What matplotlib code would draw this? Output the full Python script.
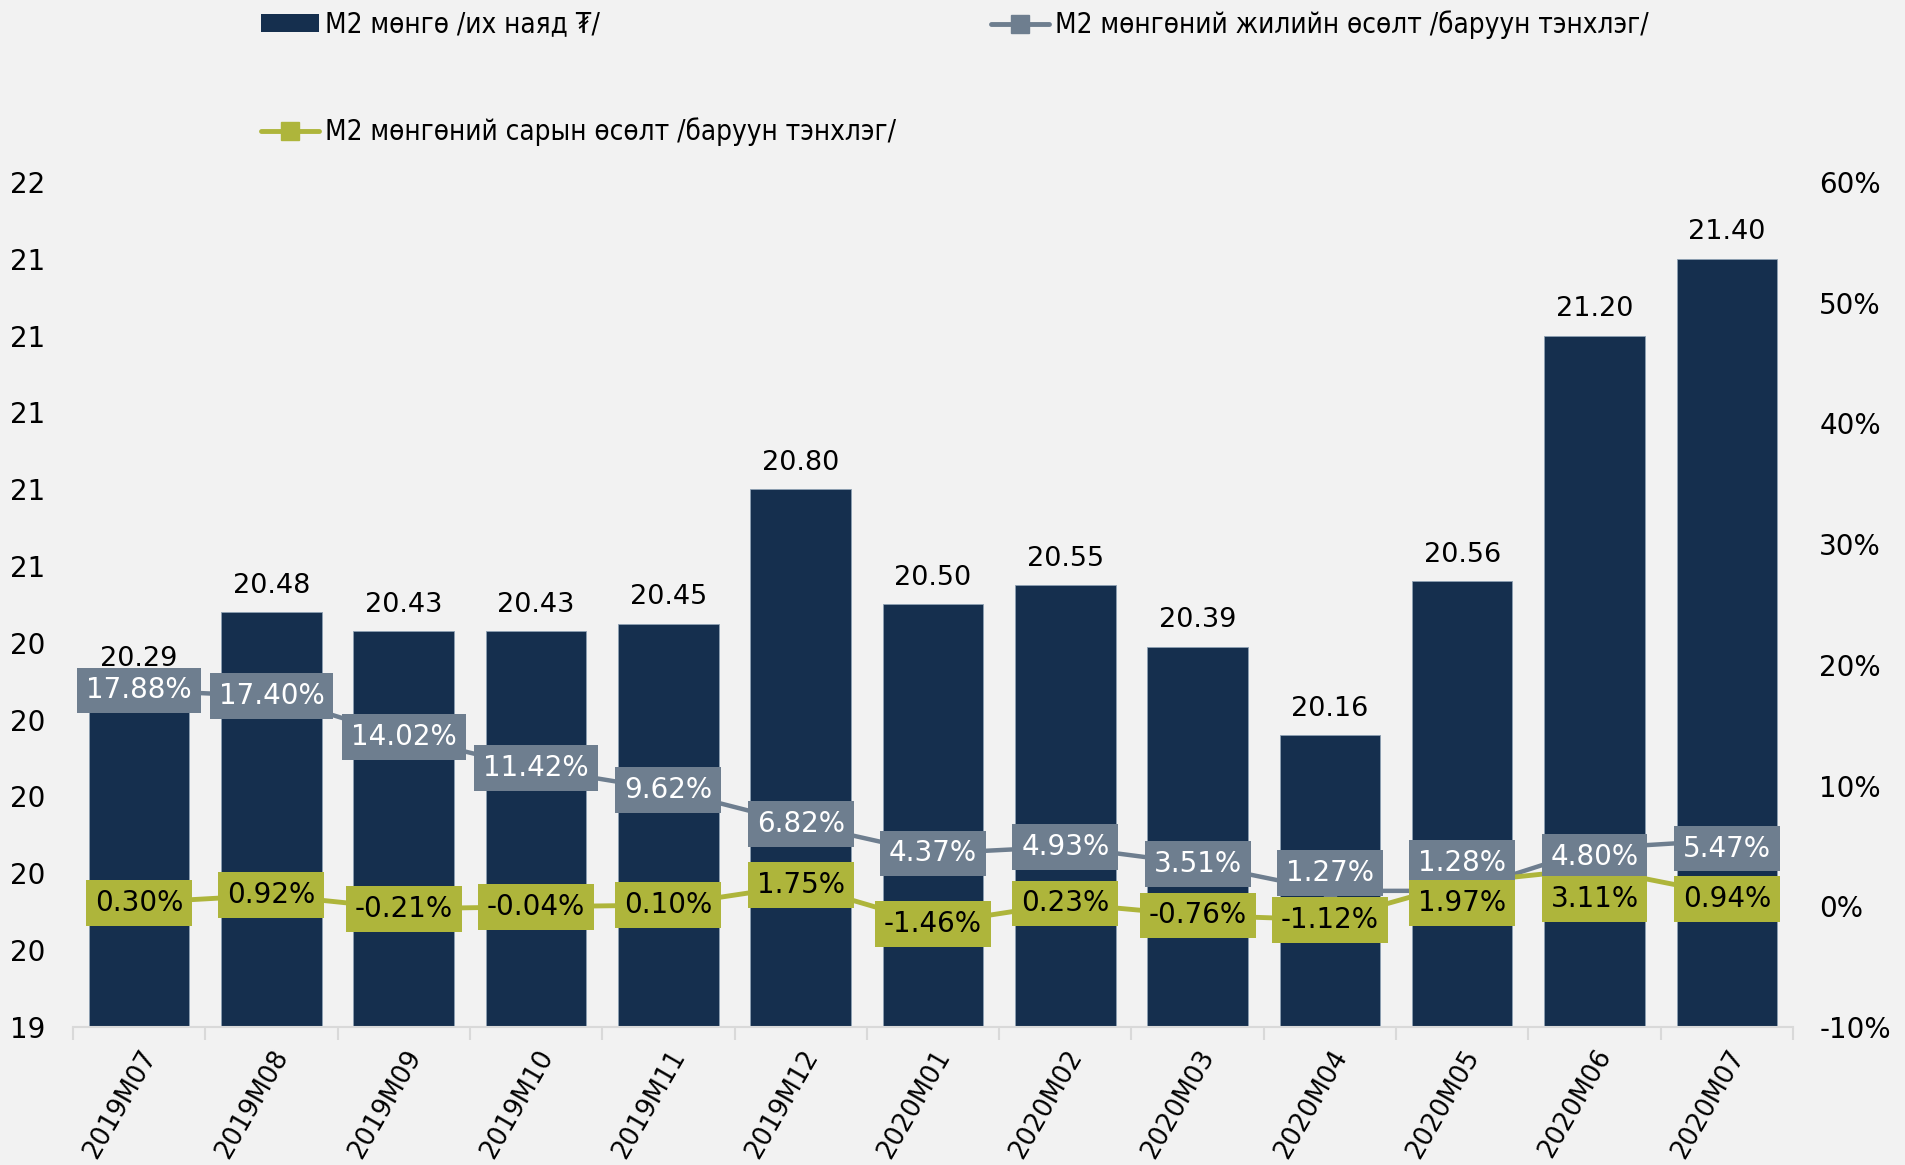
import numpy as np
import matplotlib
matplotlib.use("Agg")
import matplotlib.pyplot as plt
from matplotlib.lines import Line2D
from matplotlib.patches import Patch

# data
months = ["2019M07", "2019M08", "2019M09", "2019M10", "2019M11", "2019M12",
          "2020M01", "2020M02", "2020M03", "2020M04", "2020M05", "2020M06", "2020M07"]
m2 = [20.29, 20.48, 20.43, 20.43, 20.45, 20.80, 20.50, 20.55, 20.39, 20.16, 20.56, 21.20, 21.40]
yoy = [17.88, 17.40, 14.02, 11.42, 9.62, 6.82, 4.37, 4.93, 3.51, 1.27, 1.28, 4.80, 5.47]
mom = [0.30, 0.92, -0.21, -0.04, 0.10, 1.75, -1.46, 0.23, -0.76, -1.12, 1.97, 3.11, 0.94]

# label nudges (points, + = up), the overlapping ones were moved by hand in the original
yoy_dy = [0, 0, 0, 0, 0, 0, 0, 0, 0, 13, 20, -6, -6]
mom_dy = [0, 0, 0, 0, 0, 0, 0, 0, 0, 0, -15, -22, -3]

bg = "#f2f2f2"
navy = "#152f4e"
gray = "#6e7e8f"
olive = "#aeb53b"

plt.rcParams["font.family"] = ["DejaVu Sans"]

fig = plt.figure(figsize=(19.06, 11.65), dpi=100, facecolor=bg)
ax = fig.add_axes([0.0383, 0.1185, 0.9024, 0.7253], facecolor=bg)
ax2 = ax.twinx()

x = np.arange(len(months))
ax.bar(x, m2, width=0.76, color=navy, edgecolor="#8da0b3", linewidth=0.6, zorder=2)

ax.set_ylim(19.4, 21.6)
yt = np.arange(19.4, 21.61, 0.2)
ax.set_yticks(yt)
ax.set_yticklabels([f"{t:.0f}" for t in yt])
ax.set_xlim(-0.5, len(months) - 0.5)

for xi, v in zip(x, m2):
    ax.annotate(f"{v:.2f}", (xi, v), xytext=(0, 19), textcoords="offset points",
                ha="center", va="center", fontsize=19.5, color="black", zorder=5)

ax2.set_ylim(-10, 60)
ax2.set_yticks(np.arange(-10, 61, 10))
ax2.set_yticklabels([f"{t}%" for t in range(-10, 61, 10)])

ax2.plot(x, yoy, color=gray, lw=3.2, marker="s", ms=9, zorder=3)
ax2.plot(x, mom, color=olive, lw=3.5, marker="s", ms=9, zorder=3)

for xi, v, dy in zip(x, yoy, yoy_dy):
    ax2.annotate(f"{v:.2f}%", (xi, v), xytext=(0, dy), textcoords="offset points",
                 ha="center", va="center", fontsize=20, color="white",
                 bbox=dict(boxstyle="square,pad=0.32", fc=gray, ec="none"), zorder=6)
for xi, v, dy in zip(x, mom, mom_dy):
    ax2.annotate(f"{v:.2f}%", (xi, v), xytext=(0, dy), textcoords="offset points",
                 ha="center", va="center", fontsize=20, color="black",
                 bbox=dict(boxstyle="square,pad=0.32", fc=olive, ec="none"), zorder=6)

# axes styling
for a in (ax, ax2):
    for s in ("top", "left", "right"):
        a.spines[s].set_visible(False)
    a.spines["bottom"].set_color("#d9d9d9")
    a.spines["bottom"].set_linewidth(1.5)
    a.tick_params(axis="y", length=0, labelsize=20)
ax.tick_params(axis="y", pad=20)
ax2.tick_params(axis="y", pad=19)
ax2.spines["bottom"].set_visible(False)

ax.set_xticks(np.arange(-0.5, len(months), 1), minor=False)
ax.set_xticklabels([])
ax.tick_params(axis="x", which="major", length=9, width=1.5, color="#d9d9d9")
ax.set_xticks(x, minor=True)
ax.set_xticklabels(months, minor=True, rotation=60, ha="right", va="top",
                   rotation_mode="anchor", fontsize=18.5)
ax.tick_params(axis="x", which="minor", length=0, pad=13)
ax2.set_zorder(ax.get_zorder() + 1)
ax2.patch.set_visible(False)

# legend: two blocks, left one has bar + monthly growth, right one has yearly growth
leg_kw = dict(loc="upper left", frameon=False, handlelength=2.1,
              handletextpad=0.22, borderaxespad=0, borderpad=0, handleheight=0.6,
              labelspacing=2.85, prop=dict(family="DejaVu Sans", size=20, stretch="condensed"))
h_bar = Patch(facecolor=navy, edgecolor="none")
h_mom = Line2D([], [], color=olive, lw=3.5, marker="s", ms=13, solid_capstyle="round")
h_yoy = Line2D([], [], color=gray, lw=3.5, marker="s", ms=13, solid_capstyle="round")
fig.legend([h_bar, h_mom],
           ["M2 мөнгө /их наяд ₮/", "M2 мөнгөний сарын өсөлт /баруун тэнхлэг/"],
           bbox_to_anchor=(261 / 1906, 0.991), **leg_kw)
fig.legend([h_yoy], ["M2 мөнгөний жилийн өсөлт /баруун тэнхлэг/"],
           bbox_to_anchor=(991 / 1906, 0.991), **leg_kw)

fig.savefig("out.png", dpi=100, facecolor=bg)
